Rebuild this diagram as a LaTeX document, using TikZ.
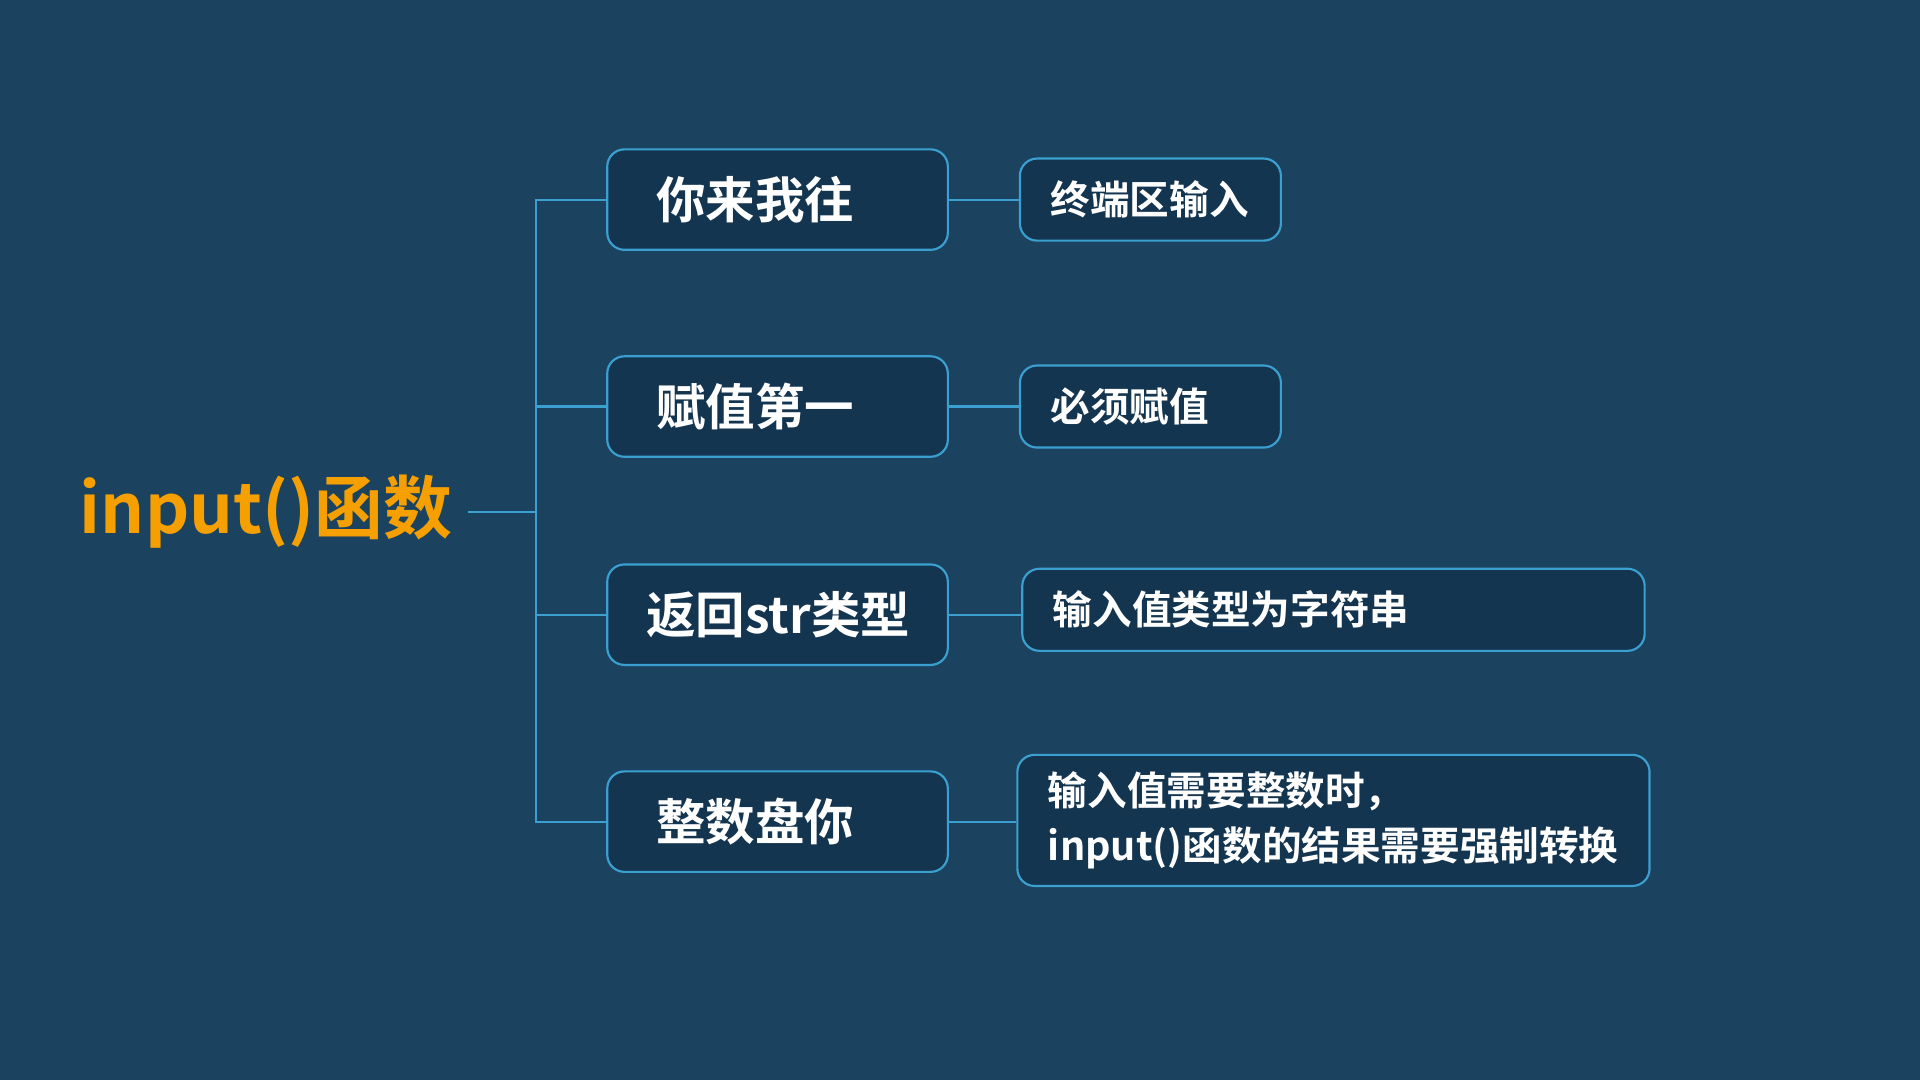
\documentclass[tikz,border=0pt]{standalone}
\usepackage{fontspec}
\setmainfont{Noto Sans CJK SC}[BoldFont={* Bold}]
\usetikzlibrary{positioning}
\definecolor{bgblue}{HTML}{1B4360}
\definecolor{boxfill}{HTML}{143550}
\definecolor{edgeblue}{HTML}{3BA0D0}
\definecolor{titleorange}{HTML}{F5A000}
\tikzset{
  mainbox/.style={draw=edgeblue, fill=boxfill, rounded corners=4pt, line width=0.5pt,
    minimum width=2.78cm, minimum height=0.82cm, text width=1.98cm, align=left,
    inner xsep=0.40cm, text=white, font=\bfseries\fontsize{11.5}{14}\selectfont},
  notebox/.style={draw=edgeblue, fill=boxfill, rounded corners=4pt, line width=0.5pt,
    minimum height=0.67cm, align=left, inner xsep=0.25cm, text=white,
    font=\bfseries\fontsize{9.2}{12.8}\selectfont},
  link/.style={edgeblue, line width=0.5pt}
}
\begin{document}
\begin{tikzpicture}[x=0.01cm, y=-0.01cm]
    \fill[bgblue] (0,0) rectangle (1568,882);
    \useasboundingbox (0,0) rectangle (1568,882);

    % title
    \node[anchor=east, text=titleorange, font=\bfseries\fontsize{16}{19}\selectfont, inner sep=0pt] (title) at (370,418) {input()函数};
    \coordinate (root) at (382,418);
    \coordinate (fork) at (438,418);

    % main branches
    \node[mainbox] (b1) at (635,163) {你来我往};
    \node[mainbox] (b2) at (635,332) {赋值第一};
    \node[mainbox, inner xsep=0.32cm, text width=2.14cm] (b3) at (635,502) {返回str类型};
    \node[mainbox] (b4) at (635,671) {整数盘你};

    % notes
    \node[notebox, minimum width=2.13cm, text width=1.63cm] (n1) at (939.5,163) {终端区输入};
    \node[notebox, minimum width=2.13cm, text width=1.63cm] (n2) at (939.5,332) {必须赋值};
    \node[notebox, minimum width=5.08cm, text width=4.58cm, inner xsep=0.18cm] (n3) at (1089,498) {输入值类型为字符串};
    \node[notebox, minimum width=5.16cm, minimum height=1.07cm, text width=4.66cm] (n4) at (1089,670) {输入值需要整数时，\\input()函数的结果需要强制转换};

    % tree lines
    \draw[link] (root) -- (fork);
    \draw[link] (b1.west) -| (fork) |- (b4.west);
    \draw[link] (fork) |- (b2.west);
    \draw[link] (fork) |- (b3.west);
    \foreach \i in {1,...,4}
        \draw[link] (b\i.east) -- (b\i.east -| n\i.west);
\end{tikzpicture}
\end{document}
